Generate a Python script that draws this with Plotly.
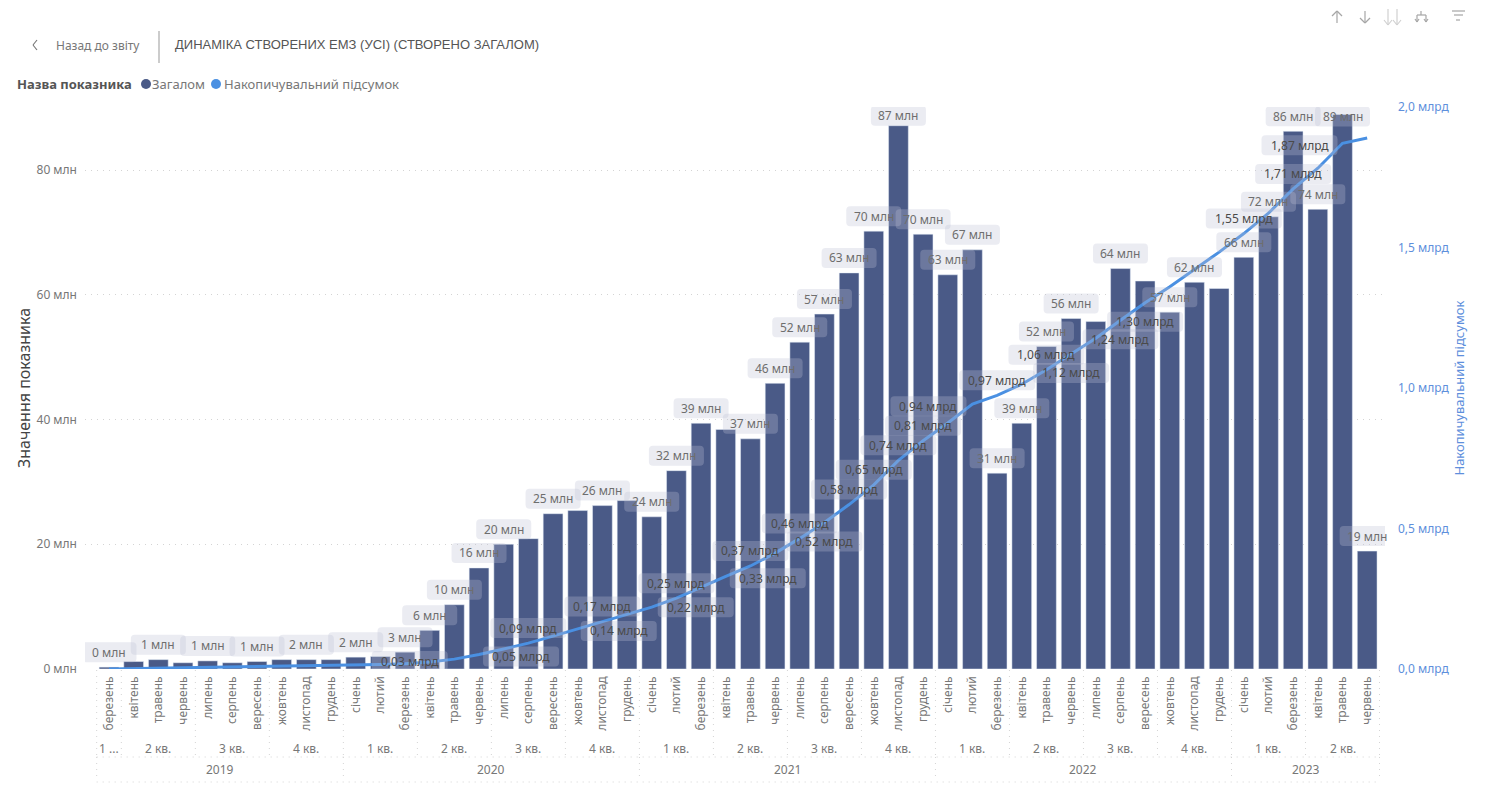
import plotly.graph_objects as go

W, H = 1486, 793

MONTH_LABELS = ["березень","квітень","травень","червень","липень","серпень","вересень","жовтень","листопад","грудень",
    "січень","лютий","березень","квітень","травень","червень","липень","серпень","вересень","жовтень","листопад","грудень",
    "січень","лютий","березень","квітень","травень","червень","липень","серпень","вересень","жовтень","листопад","грудень",
    "січень","лютий","березень","квітень","травень","червень","липень","серпень","вересень","жовтень","листопад","грудень",
    "січень","лютий","березень","квітень","травень","червень"]
TOTAL_MLN = [0.3,1.2,1.5,1.0,1.3,1.0,1.2,1.5,1.5,1.5,
    1.9,2.0,2.7,6.2,10.3,16.2,20.0,20.9,24.9,25.4,26.2,27.0,
    24.4,31.8,39.4,38.4,36.9,45.8,52.4,56.9,63.5,70.2,87.1,69.7,
    63.2,67.2,31.4,39.4,51.7,56.2,55.7,64.2,62.2,57.2,62.0,61.0,
    66.0,72.5,86.2,73.7,88.9,18.9]
CUMULATIVE_BLN = [0.0003,0.0015,0.003,0.004,0.0053,0.0063,0.0075,0.009,0.0105,0.012,
    0.0139,0.0159,0.0186,0.0248,0.0351,0.0513,0.0713,0.0922,0.1171,0.1425,0.1687,0.1957,
    0.2201,0.2519,0.2913,0.3297,0.3666,0.4124,0.4648,0.5217,0.5852,0.6554,0.7425,0.8122,
    0.8754,0.9426,0.974,1.0134,1.0651,1.1213,1.177,1.2412,1.3034,1.3606,1.4226,1.4836,
    1.5496,1.6221,1.7083,1.782,1.8709,1.8898]
QUARTER_LABELS = ["1 ...","2 кв.","3 кв.","4 кв.","1 кв.","2 кв.","3 кв.","4 кв.","1 кв.","2 кв.","3 кв.","4 кв.",
    "1 кв.","2 кв.","3 кв.","4 кв.","1 кв.","2 кв."]
QUARTER_SIZES = [1,3,3,3,3,3,3,3,3,3,3,3,3,3,3,3,3,3]
YEAR_LABELS = ["2019","2020","2021","2022","2023"]
YEAR_SIZES = [10,12,12,12,6]
LEFT_TICKS = [0,20,40,60,80]
LEFT_TICK_TEXT = ["0 млн","20 млн","40 млн","60 млн","80 млн"]
RIGHT_TICKS = [0,0.5,1.0,1.5,2.0]
RIGHT_TICK_TEXT = ["0,0 млрд","0,5 млрд","1,0 млрд","1,5 млрд","2,0 млрд"]

# labels shown over the bars: month index and text
BAR_LABELS = [(0,"0 млн"),(2,"1 млн"),(4,"1 млн"),(6,"1 млн"),(8,"2 млн"),(10,"2 млн"),(12,"3 млн"),(13,"6 млн"),
    (14,"10 млн"),(15,"16 млн"),(16,"20 млн"),(18,"25 млн"),(20,"26 млн"),(22,"24 млн"),(23,"32 млн"),(24,"39 млн"),
    (26,"37 млн"),(27,"46 млн"),(28,"52 млн"),(29,"57 млн"),(30,"63 млн"),(31,"70 млн"),(32,"87 млн"),(33,"70 млн"),
    (34,"63 млн"),(35,"67 млн"),(36,"31 млн"),(37,"39 млн"),(38,"52 млн"),(39,"56 млн"),(41,"64 млн"),(43,"57 млн"),
    (44,"62 млн"),(46,"66 млн"),(47,"72 млн"),(48,"86 млн"),(49,"74 млн"),(50,"89 млн"),(51,"19 млн")]
# labels shown on the line: month index and text
LINE_LABELS = [(13,"0,03 млрд"),(15,"0,05 млрд"),(17,"0,09 млрд"),(19,"0,14 млрд"),(20,"0,17 млрд"),(22,"0,22 млрд"),
    (23,"0,25 млрд"),(25,"0,33 млрд"),(26,"0,37 млрд"),(28,"0,46 млрд"),(29,"0,52 млрд"),(30,"0,58 млрд"),
    (31,"0,65 млрд"),(32,"0,74 млрд"),(33,"0,81 млрд"),(35,"0,94 млрд"),(36,"0,97 млрд"),(38,"1,06 млрд"),
    (39,"1,12 млрд"),(41,"1,24 млрд"),(42,"1,30 млрд"),(46,"1,55 млрд"),(48,"1,71 млрд"),(50,"1,87 млрд")]
# label placement, in pixels from the labelled point
BAR_LABEL_SHIFT = {32:10, 50:-2}
LINE_LABEL_SHIFT = {13:(-20,1),15:(42,-2),19:(41,-2),22:(44,0),25:(42,-2),29:(0,-19),35:(-44,-2),
    39:(0,-19),41:(0,-19),42:(0,-19),50:(-43,-2)}

BAR = "#4A5A87"
LINE = "#4A90E2"
BLUE_TXT = "#5E8FDC"
GREY = "#777777"
GRID = "#D4D4D4"
DOT = "1px,5px"
FONT = "Noto Sans"
BOX = "rgba(190,193,212,0.3)"

px = lambda x: x / W
py = lambda y: 1 - y / H
STEP = 24.67
X0 = 109
xd = lambda p: (p - X0) / STEP

fig = go.Figure()
idx = list(range(len(MONTH_LABELS)))
fig.add_trace(go.Bar(x=idx, y=TOTAL_MLN, name="Загалом", marker_color=BAR, width=0.8, yaxis="y"))
fig.add_trace(go.Scatter(x=idx, y=CUMULATIVE_BLN, name="Накопичувальний підсумок", mode="lines",
                         line=dict(color=LINE, width=3), yaxis="y2"))

shapes, ann = [], []

def box(i, val, yref, w, dx, dy):
    h, r = 20, 4
    l, rr, b, t = dx - w/2, dx + w/2, dy - h/2, dy + h/2
    path = (f"M {l+r},{b} L {rr-r},{b} Q {rr},{b} {rr},{b+r} L {rr},{t-r} Q {rr},{t} {rr-r},{t} "
            f"L {l+r},{t} Q {l},{t} {l},{t-r} L {l},{b+r} Q {l},{b} {l+r},{b} Z")
    shapes.append(dict(type="path", path=path, xref="x", yref=yref, xsizemode="pixel", ysizemode="pixel",
                       xanchor=i, yanchor=val, fillcolor=BOX, line=dict(width=0), layer="above"))

def point_label(i, val, yref, text, dx, dy, color):
    ann.append(dict(x=i, y=val, xref="x", yref=yref, text=text, showarrow=False, xshift=dx, yshift=dy,
                    xanchor="center", yanchor="middle", font=dict(family=FONT, size=12, color=color)))

for i, t in BAR_LABELS:
    dy = BAR_LABEL_SHIFT.get(i, 15)
    box(i, TOTAL_MLN[i], "y", 55, 0, dy)
for i, t in LINE_LABELS:
    dx, dy = LINE_LABEL_SHIFT.get(i, (0, 15))
    box(i, CUMULATIVE_BLN[i], "y2", 76, dx, dy)
for i, t in BAR_LABELS:
    point_label(i, TOTAL_MLN[i], "y", t, 0, BAR_LABEL_SHIFT.get(i, 15), "#6E6E6E")
for i, t in LINE_LABELS:
    dx, dy = LINE_LABEL_SHIFT.get(i, (0, 15))
    point_label(i, CUMULATIVE_BLN[i], "y2", t, dx, dy, "#4A4A4A")

# hierarchy of the category axis
def sep(x, y0, y1):
    shapes.append(dict(type="line", xref="x", yref="paper", x0=x, x1=x, y0=py(y0), y1=py(y1),
                       line=dict(color=GRID, width=1, dash=DOT), layer="below"))

pos = -0.5
for lab, n in zip(QUARTER_LABELS, QUARTER_SIZES):
    ann.append(dict(x=pos + n/2, y=py(748), xref="x", yref="paper", text=lab, showarrow=False, yanchor="middle",
                    font=dict(family=FONT, size=12, color=GREY)))
    sep(pos, 670, 757)
    pos += n
sep(pos, 670, 757)
pos = -0.5
for lab, n in zip(YEAR_LABELS, YEAR_SIZES):
    ann.append(dict(x=pos + n/2, y=py(769), xref="x", yref="paper", text=lab, showarrow=False, yanchor="middle",
                    font=dict(family=FONT, size=12, color=GREY)))
    sep(pos, 757, 781)
    pos += n
sep(pos, 757, 781)
for yy in (757, 782):
    shapes.append(dict(type="line", xref="x", yref="paper", x0=-0.5, x1=51.5, y0=py(yy), y1=py(yy),
                       line=dict(color=GRID, width=1, dash=DOT), layer="below"))

# page header and legend
def txt(x, y, s, size, color, family=FONT, anchor="left", **kw):
    ann.append(dict(x=px(x - 2), y=py(y), xref="paper", yref="paper", text=s, showarrow=False, xanchor=anchor,
                    yanchor="middle", font=dict(family=family, size=size, color=color), **kw))

def seg(x0, y0, x1, y1, color="#A6A6A6", width=1.2):
    shapes.append(dict(type="line", xref="paper", yref="paper", x0=px(x0), x1=px(x1), y0=py(y0), y1=py(y1),
                       line=dict(color=color, width=width)))

seg(37, 40, 33, 45, "#777777"); seg(33, 45, 37, 50, "#777777")
txt(56, 45, "Назад до звіту", 12, "#777777")
seg(159, 31, 159, 63, "#999999", 1)
txt(175, 44, "ДИНАМІКА СТВОРЕНИХ ЕМЗ (УСІ) (СТВОРЕНО ЗАГАЛОМ)", 13, "#555555", "Liberation Sans")
txt(17, 84, "<b>Назва показника</b>", 13, "#555555")
txt(152, 84, "Загалом", 13, "#777777")
txt(224, 84, "Накопичувальний підсумок", 13, "#777777")
for cx, c in ((146, BAR), (216, LINE)):
    shapes.append(dict(type="circle", xref="paper", yref="paper", x0=px(cx-5), x1=px(cx+5), y0=py(89), y1=py(79),
                       fillcolor=c, line=dict(width=0)))

# toolbar icons
seg(1337, 11, 1337, 23); seg(1332, 16, 1337, 11); seg(1337, 11, 1342, 16)
seg(1365, 11, 1365, 23); seg(1360, 18, 1365, 23); seg(1365, 23, 1370, 18)
for x0 in (1388, 1397):
    seg(x0, 9, x0, 25, "#D0D0D0"); seg(x0-4, 20, x0, 25, "#D0D0D0"); seg(x0, 25, x0+4, 20, "#D0D0D0")
seg(1421, 11, 1421, 15); seg(1417, 15, 1426, 15); seg(1417, 15, 1417, 22); seg(1426, 15, 1426, 22)
seg(1415, 19, 1417, 22); seg(1419, 19, 1417, 22); seg(1424, 19, 1426, 22); seg(1428, 19, 1426, 22)
seg(1452, 11, 1465, 11); seg(1454, 15, 1463, 15); seg(1456, 20, 1460, 20)

# plot area spans the tick stubs; bars start further in
dom_l, dom_r = 85, 1385
fig.update_layout(
    width=W, height=H, autosize=False, margin=dict(l=0, r=0, t=0, b=0, autoexpand=False),
    paper_bgcolor="white", plot_bgcolor="white", showlegend=False, bargap=0.2,
    font=dict(family=FONT, size=12, color=GREY),
    xaxis=dict(domain=[px(dom_l), px(dom_r)], range=[xd(dom_l), xd(dom_r)], tickmode="array", tickvals=idx,
               ticktext=MONTH_LABELS, tickangle=-90, showgrid=False, zeroline=False, showline=False, ticks="",
               tickfont=dict(family=FONT, size=12, color=GREY), ticklabelstandoff=4),
    yaxis=dict(domain=[py(669), py(107)], range=[0, 90.1], tickmode="array", tickvals=LEFT_TICKS,
               ticktext=LEFT_TICK_TEXT, showgrid=True, griddash=DOT, gridcolor=GRID, gridwidth=1, zeroline=False,
               tickfont=dict(family=FONT, size=12, color=GREY), ticks="", ticklabelstandoff=7,
               title=dict(text="Значення показника", font=dict(family=FONT, size=16, color="#444444"), standoff=1)),
    yaxis2=dict(overlaying="y", side="right", anchor="x", range=[0, 2.0], tickmode="array", tickvals=RIGHT_TICKS,
                ticktext=RIGHT_TICK_TEXT, showgrid=False, zeroline=False,
                tickfont=dict(family=FONT, size=12, color=BLUE_TXT), ticks="", ticklabelstandoff=12,
                title=dict(text="Накопичувальний підсумок", font=dict(family=FONT, size=13, color=BLUE_TXT), standoff=6)),
    shapes=shapes, annotations=ann,
)
fig.write_html("out.html", config={"displayModeBar": False}, post_script="document.body.style.margin='0';")
